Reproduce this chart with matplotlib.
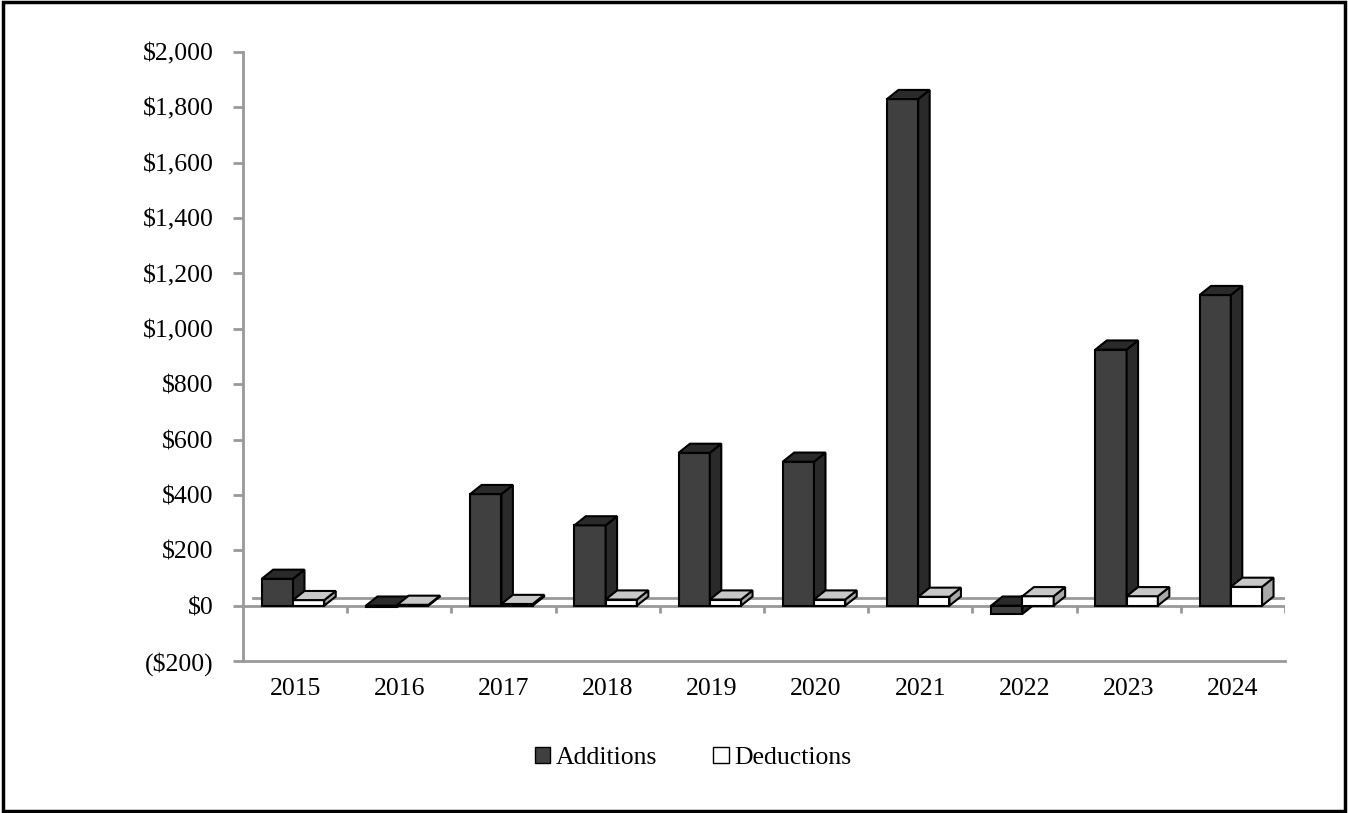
import matplotlib.pyplot as plt
from matplotlib.patches import Polygon, Patch, Rectangle
from matplotlib.ticker import FuncFormatter
import numpy as np

years = ['2015', '2016', '2017', '2018', '2019', '2020', '2021', '2022', '2023', '2024']
additions = [97, -5, 403, 290, 552, 520, 1830, -30, 925, 1122]
deductions = [20, 3, 6, 22, 22, 22, 32, 34, 34, 68]

plt.rcParams['font.family'] = ['Liberation Serif', 'DejaVu Serif']

fig = plt.figure(figsize=(13.48, 8.13), dpi=100)
ax = fig.add_axes([243/1348, 1-661/813, (1285-243)/1348, (661-52)/813])
ax.set_xlim(-0.5, 9.5)
ax.set_ylim(-200, 2000)

# depth of the fake 3d boxes, in data units
dx = 0.11
dy = 33
w = 0.30
x = np.arange(len(years))

def money(v, pos):
    if v < 0:
        return '(${:,.0f})'.format(-v)
    return '${:,.0f}'.format(v)

# back floor line
ax.plot([-0.5 + 0.1, 9.5 + 0.1], [29, 29], color='#999999', lw=2, zorder=1)

def box(left, val, front, side, top):
    lo, hi = min(0, val), max(0, val)
    ax.bar(left, hi - lo, bottom=lo, width=w, align='edge', color=front,
           edgecolor='black', lw=1.5, zorder=3)
    r = left + w
    ax.add_patch(Polygon([(r, lo), (r + dx, lo + dy), (r + dx, hi + dy), (r, hi)],
                         closed=True, facecolor=side, edgecolor='black', lw=1.5, zorder=3))
    ax.add_patch(Polygon([(left, hi), (left + dx, hi + dy), (r + dx, hi + dy), (r, hi)],
                         closed=True, facecolor=top, edgecolor='black', lw=1.5, zorder=3))

for i in range(len(years)):
    box(x[i] - 0.32, additions[i], '#404040', '#2a2a2a', '#2a2a2a')
    box(x[i] - 0.02, deductions[i], 'white', '#a8a8a8', '#c8c8c8')

# front zero line with category ticks
ax.axhline(0, color='#999999', lw=2, zorder=2)
ax.vlines(np.arange(0.5, 10, 1), -25, 0, color='#999999', lw=2, zorder=2)

for s in ['top', 'right']:
    ax.spines[s].set_visible(False)
for s in ['left', 'bottom']:
    ax.spines[s].set_color('#999999')
    ax.spines[s].set_linewidth(2)

ax.set_yticks(np.arange(-200, 2001, 200))
ax.yaxis.set_major_formatter(FuncFormatter(money))
ax.tick_params(axis='y', direction='out', length=7, width=2, color='#999999',
               labelsize=18.5, pad=14)
ax.set_xticks(x)
ax.set_xticklabels(years)
ax.tick_params(axis='x', length=0, labelsize=18.5, pad=12)

handles = [Patch(facecolor='#404040', edgecolor='black'),
           Patch(facecolor='white', edgecolor='black')]
fig.legend(handles, ['Additions', 'Deductions'], loc='center', bbox_to_anchor=(0.514, 1-758/813),
           ncol=2, frameon=False, fontsize=18.5, handlelength=0.6, handleheight=0.6,
           handletextpad=0.2, columnspacing=2.2)

fig.patches.append(Rectangle((0.002, 0.003), 0.996, 0.994, transform=fig.transFigure,
                             fill=False, edgecolor='black', lw=2.5))

fig.savefig('out.png', dpi=100)
